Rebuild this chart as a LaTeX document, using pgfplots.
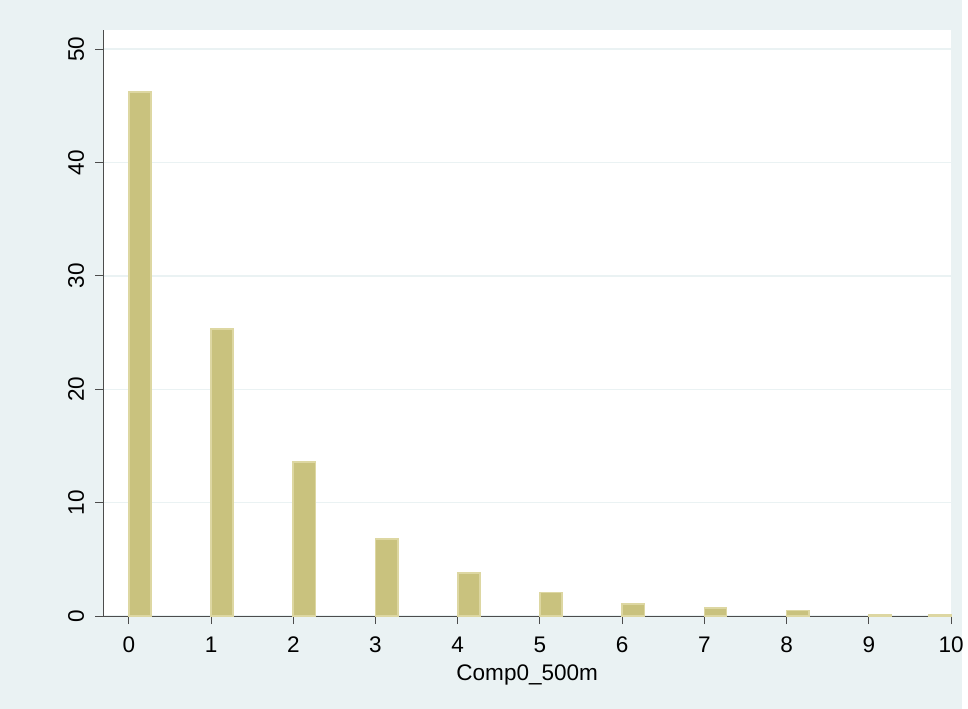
\documentclass[border=0pt]{standalone}
\usepackage{pgfplots}
\pgfplotsset{compat=1.18}
\usepackage{fontspec}
\setmainfont{Liberation Sans}
\definecolor{bgc}{HTML}{EAF2F3}
\definecolor{barf}{HTML}{C9C27E}
\definecolor{bare}{HTML}{DDD7A2}
\begin{document}
\begin{tikzpicture}[x=1pt,y=1pt]
\fill[bgc] (-78,-69.75) rectangle (648,465);
\begin{axis}[
  at={(0,0)}, anchor=south west,
  scale only axis, width=639.75pt, height=442.5pt,
  xmin=-0.31, xmax=10, ymin=0, ymax=51.7,
  axis background/.style={fill=white},
  axis x line*=bottom, axis y line*=left,
  axis line style={draw=black!70, line width=0.9pt},
  xtick={0,...,10}, ytick={0,10,...,50},
  tick align=outside,
  major tick length=6pt,
  xtick style={draw=black!70, line width=0.8pt},
  ytick style={draw=black!70, line width=0.8pt},
  ymajorgrids, grid style={bgc, line width=1pt},
  yticklabel style={rotate=90, anchor=south, yshift=5pt, font=\fontsize{17}{19}\selectfont},
  xticklabel style={yshift=-6pt, font=\fontsize{17}{19}\selectfont},
  /pgf/number format/assume math mode=true,
  xlabel={Comp0\_500m}, xlabel style={font=\fontsize{17}{19}\selectfont, yshift=-2pt},
  clip=false,
]
\addplot[ybar, bar width=0.27, bar shift=0pt, fill=barf, draw=bare, line width=1.2pt]
coordinates {(0.135,46.2) (1.135,25.3) (2.135,13.6) (3.135,6.8) (4.135,3.8) (5.135,2.1) (6.135,1.05) (7.135,0.7) (8.135,0.5) (9.135,0.1) (9.865,0.1)};
\end{axis}
\end{tikzpicture}
\end{document}
